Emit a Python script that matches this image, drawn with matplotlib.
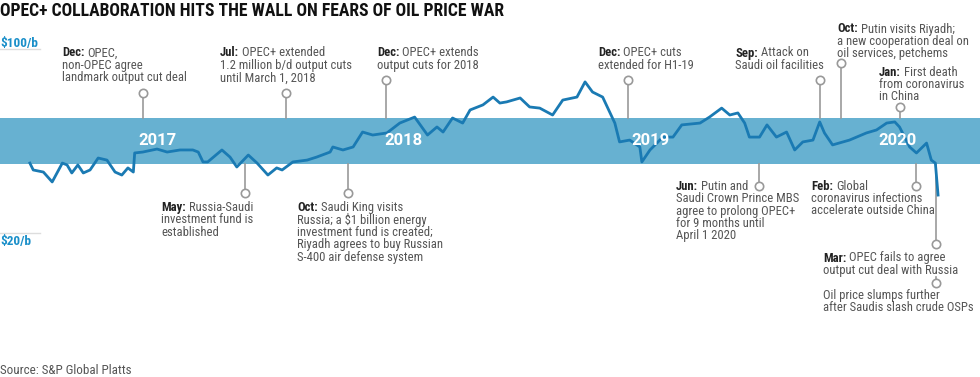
import matplotlib
matplotlib.use('Agg')
import matplotlib.pyplot as plt
import matplotlib.dates as mdates
from matplotlib import font_manager
import pandas as pd

# Dated Brent, $/b
dates = [
    '2016-06-27', '2016-07-02', '2016-07-17', '2016-07-30', '2016-08-14', '2016-08-21',
    '2016-08-28', '2016-09-06', '2016-09-14', '2016-09-24', '2016-10-06', '2016-10-19',
    '2016-10-31', '2016-11-10', '2016-11-19', '2016-11-27', '2016-11-29', '2016-12-11',
    '2017-01-01', '2017-01-16', '2017-02-04', '2017-02-23', '2017-03-03', '2017-03-10',
    '2017-03-17', '2017-04-07', '2017-04-19', '2017-04-29', '2017-05-16', '2017-05-29',
    '2017-06-14', '2017-06-27', '2017-07-05', '2017-07-21', '2017-08-11', '2017-08-25',
    '2017-09-14', '2017-09-18', '2017-10-03', '2017-10-18', '2017-11-01', '2017-11-16',
    '2017-12-07', '2017-12-26', '2018-01-17', '2018-02-05', '2018-02-19', '2018-02-28',
    '2018-03-14', '2018-03-29', '2018-04-09', '2018-04-28', '2018-05-13', '2018-05-23',
    '2018-06-02', '2018-06-22', '2018-07-06', '2018-07-21', '2018-08-09', '2018-08-24',
    '2018-09-14', '2018-09-26', '2018-10-07', '2018-10-22', '2018-11-02', '2018-11-09',
    '2018-11-16', '2018-12-01', '2018-12-16', '2018-12-19', '2018-12-31', '2019-01-19',
    '2019-02-03', '2019-02-16', '2019-03-15', '2019-03-29', '2019-04-16', '2019-04-28',
    '2019-05-10', '2019-05-20', '2019-05-27', '2019-06-11', '2019-06-22', '2019-07-06',
    '2019-07-21', '2019-08-02', '2019-08-14', '2019-08-29', '2019-09-08', '2019-09-15',
    '2019-09-27', '2019-10-22', '2019-11-16', '2019-12-01', '2019-12-16', '2019-12-28',
    '2020-01-04', '2020-01-19', '2020-01-29', '2020-02-13', '2020-02-20', '2020-02-26',
    '2020-03-01',
]
prices = [
    50.4, 47.4, 46.5, 42.2, 50.4, 49.6,
    46.1, 49.6, 46.1, 47.4, 52.6, 51.7,
    46.5, 45.2, 48.3, 46.5, 54.8, 55.2,
    56.5, 55.2, 56.1, 56.1, 55.2, 50.9,
    50.9, 56.1, 53.0, 48.7, 53.9, 50.4,
    45.2, 48.3, 47.4, 50.9, 51.7, 53.0,
    55.2, 57.4, 56.1, 57.4, 63.9, 62.6,
    63.5, 67.8, 70.4, 62.6, 66.1, 63.9,
    70.0, 67.8, 73.5, 75.7, 79.1, 76.5,
    77.0, 78.7, 74.8, 74.3, 71.3, 77.8,
    79.1, 85.7, 81.3, 79.1, 72.2, 67.8,
    59.6, 60.4, 57.4, 50.9, 56.1, 61.7,
    61.7, 67.0, 67.8, 70.4, 74.3, 71.3,
    72.2, 67.8, 61.7, 61.7, 67.0, 61.7,
    63.9, 56.1, 59.6, 60.4, 68.3, 63.5,
    58.3, 60.4, 63.5, 64.8, 67.8, 68.3,
    66.1, 57.4, 54.8, 59.1, 51.7, 50.4,
    36.5,
]

years = ['2017', '2018', '2019', '2020']

event_dates = [
    '2016-12-11', '2017-07-11', '2017-12-05', '2018-11-28', '2019-09-08', '2019-10-10',
    '2020-01-04', '2017-05-11', '2017-10-10', '2019-06-10', '2020-01-29', '2020-02-27',
    '2020-02-27',
]
event_heads = ['Dec:', 'Jul:', 'Dec:', 'Dec:', 'Sep:', 'Oct:', 'Jan:', 'May:', 'Oct:',
               'Jun:', 'Feb:', 'Mar:', '']
event_texts = [
    ['OPEC,', 'non-OPEC agree', 'landmark output cut deal'],
    ['OPEC+ extended', '1.2 million b/d output cuts', 'until March 1, 2018'],
    ['OPEC+ extends', 'output cuts for 2018'],
    ['OPEC+ cuts', 'extended for H1-19'],
    ['Attack on', 'Saudi oil facilities'],
    ['Putin visits Riyadh;', 'a new cooperation deal on', 'oil services, petchems'],
    ['First death', 'from coronavirus', 'in China'],
    ['Russia-Saudi', 'investment fund is', 'established'],
    ['Saudi King visits', 'Russia; a $1 billion energy', 'investment fund is created;',
     'Riyadh agrees to buy Russian', 'S-400 air defense system'],
    ['Putin and', 'Saudi Crown Prince MBS', 'agree to prolong OPEC+', 'for 9 months until',
     'April 1 2020'],
    ['Global', 'coronavirus infections', 'accelerate outside China'],
    ['OPEC fails to agree', 'output cut deal with Russia'],
    ['Oil price slumps further', 'after Saudis slash crude OSPs'],
]

TITLE = 'OPEC+ COLLABORATION HITS THE WALL ON FEARS OF OIL PRICE WAR'
SOURCE = 'Source: S&P Global Platts'

# layout in pixels: text left, first line centre, circle y, where the stem starts
layout = [
    (62, 53, 93, 'top'), (220, 53, 93, 'top'), (377, 53, 80, 'top'),
    (598, 53, 80, 'top'), (735, 53, 80, 'top'), (837, 29, 63, 'top'),
    (879, 72, 107, 'top'), (161, 207, 193, 'bottom'), (297, 207, 193, 'bottom'),
    (676, 186, 186, 'bottom'), (811, 186, 186, 'bottom'), (823, 258, 244, 'bottom'),
    (823, 295, 283, 277),
]

W, H = 980, 377
BAND = (50, 70)
LINE_BLUE = '#1a7ab3'
BAND_BLUE = '#67b1d1'
LABEL_BLUE = '#1a8fc9'
GREY = '#999999'
TEXT = '#555555'

# the original uses a condensed face; take one if it is there
names = {f.name for f in font_manager.fontManager.ttflist}
FONT = ['Roboto', 'DejaVu Sans']
for cand in ['Roboto Condensed', 'Liberation Sans Narrow', 'Open Sans Condensed']:
    if cand in names:
        FONT = [cand, 'DejaVu Sans']
        break
plt.rcParams['font.family'] = FONT


def py(ypx):
    # pixel row -> price
    return 100 - (ypx - 49) / 2.3


def fx(x):
    return x / W


def fy(y):
    return 1 - y / H


fig = plt.figure(figsize=(W / 100, H / 100), dpi=100)
ax = fig.add_axes([0, 0, 1, 1])
ax.axis('off')
r = fig.canvas.get_renderer()


def fit_size(s, width_px, **kw):
    # font size that makes s as wide as it is in the reference
    t = fig.text(0, 0, s, fontsize=10, **kw)
    w = t.get_window_extent(renderer=r).width
    t.remove()
    return 10 * width_px / w


body_size = fit_size('landmark output cut deal', 124)
title_size = fit_size(TITLE, 504, weight='bold')
source_size = fit_size(SOURCE, 131)
price_size = fit_size('$100/b', 38, weight='bold')

t0 = mdates.date2num(pd.Timestamp('2017-01-01'))
ppd = 247 / 365.25
ax.set_xlim(t0 - 157 / ppd, t0 + (W - 157) / ppd)
ax.set_ylim(py(H), py(0))

ax.axhspan(BAND[0], BAND[1], color=BAND_BLUE, zorder=1, lw=0)
ax.plot(pd.to_datetime(dates), prices, color=LINE_BLUE, lw=2, zorder=3)

for yr in years:
    ax.text(pd.Timestamp(yr + '-01-01'), 60, yr, ha='center', va='center', color='white',
            fontsize=12, weight='bold', family=['Roboto', 'DejaVu Sans'], zorder=4)

# $100 / $20 markers
ax.axhline(100, xmin=0, xmax=40 / W, color='#dddddd', lw=1)
ax.axhline(20, xmin=0, xmax=40 / W, color='#dddddd', lw=1)
fig.text(0, fy(43), '$100/b', color=LABEL_BLUE, weight='bold', fontsize=price_size, va='center')
fig.text(0, fy(242), '$20/b', color=LABEL_BLUE, weight='bold', fontsize=price_size, va='center')

fig.text(0, fy(11), TITLE, weight='bold', fontsize=title_size, color='#111111', va='center')
fig.text(0, fy(370), SOURCE, fontsize=source_size, color=TEXT, va='center')

for d, head, lines, (tx, ty, cy, side) in zip(event_dates, event_heads, event_texts, layout):
    d = pd.Timestamp(d)
    if side == 'top':
        y0 = BAND[1]
    elif side == 'bottom':
        y0 = BAND[0]
    else:
        y0 = py(side)
    ax.plot([d, d], [y0, py(cy)], color=GREY, lw=1.2, zorder=2)
    ax.plot(d, py(cy), 'o', ms=6, mfc='white', mec=GREY, mew=1.2, zorder=5)

    for i, line in enumerate(lines):
        y = ty + i * 12.5
        x = tx
        if i == 0 and head:
            t = fig.text(fx(x), fy(y), head, weight='bold', fontsize=body_size,
                         color='#222222', va='center')
            x += t.get_window_extent(renderer=r).width + 3
        fig.text(fx(x), fy(y), line, fontsize=body_size, color=TEXT, va='center')

fig.savefig('out.png', dpi=100)
